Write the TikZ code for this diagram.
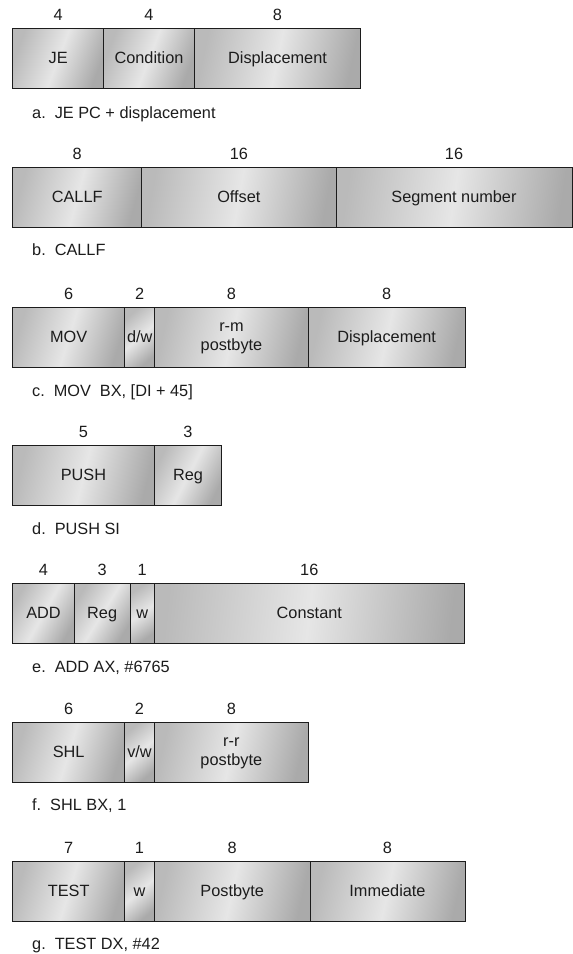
\documentclass[tikz,border=0pt]{standalone}
\usepackage{fontspec}
\setmainfont{Liberation Sans}
\definecolor{leftgray}{RGB}{186,186,186}
\definecolor{rightgray}{RGB}{170,170,170}
\definecolor{midgray}{RGB}{230,230,230}
\definecolor{inkc}{RGB}{28,28,28}
\tikzset{
  cell/.style={draw=inkc, line width=1pt, inner sep=0pt, outer sep=0pt,
    minimum height=60pt, align=center, text=inkc,
    left color=leftgray, right color=rightgray, middle color=midgray,
    text height=11.4pt, text depth=0pt,
    font=\fontsize{16.3}{18.5}\selectfont},
  twoline/.style={text height=0pt, text depth=0pt},
  bits/.style={anchor=base, inner sep=0pt, text=inkc, font=\fontsize{16.3}{18}\selectfont},
  capt/.style={anchor=base west, inner sep=0pt, text=inkc, font=\fontsize{16.3}{18}\selectfont}
}
\newcommand\twolines[2]{\raisebox{5.3pt}[0pt][0pt]{\begin{tabular}[t]{@{}c@{}}#1\\#2\end{tabular}}}
% #1 name, #2 x left, #3 x right, #4 y top, #5 label, #6 bit count, #7 extra style
\newcommand\fldgen[7]{%
  \pgfmathsetmacro\shang{90-atan(34.6/(#3-#2))}%
  \node[cell, #7, shading angle=\shang, minimum width={#3-#2}] (#1) at ({(#2+#3)/2},{#4+30}) {#5};
  \node[bits] (#1n) at ({(#2+#3)/2},{#4-8}) {#6};
}
\newcommand\fld[6]{\fldgen{#1}{#2}{#3}{#4}{#5}{#6}{}}
\newcommand\fldtwo[6]{\fldgen{#1}{#2}{#3}{#4}{#5}{#6}{twoline}}
\begin{document}
\begin{tikzpicture}[x=1pt,y=-1pt]
\useasboundingbox (0,0) rectangle (573,954);
% a
\fld{a1}{12.7}{103.7}{28}{JE}{4}
\fld{a2}{103.7}{194.3}{28}{Condition}{4}
\fld{a3}{194.3}{360.7}{28}{Displacement}{8}
\node[capt] (ca) at (32,118) {a.\hspace{0.55em}JE PC + displacement};
% b
\fld{b1}{12.7}{141.7}{167}{CALLF}{8}
\fld{b2}{141.7}{336}{167}{Offset}{16}
\fld{b3}{336}{572}{167}{Segment number}{16}
\node[capt] (cb) at (32,255) {b.\hspace{0.55em}CALLF};
% c
\fld{c1}{12.7}{124.7}{307}{MOV}{6}
\fld{c2}{124.7}{154.7}{307}{d/w}{2}
\fldtwo{c3}{154.7}{308.3}{307}{\twolines{r-m}{postbyte}}{8}
\fld{c4}{308.3}{465}{307}{Displacement}{8}
\node[capt] (cc) at (32,396) {c.\hspace{0.55em}MOV\hspace{0.55em}BX, [DI + 45]};
% d
\fld{d1}{12.7}{154.3}{445}{PUSH}{5}
\fld{d2}{154.3}{221.7}{445}{Reg}{3}
\node[capt] (cd) at (32,534) {d.\hspace{0.55em}PUSH SI};
% e
\fld{e1}{12.7}{74.3}{583}{ADD}{4}
\fld{e2}{74.3}{130}{583}{Reg}{3}
\fld{e3}{130}{154.3}{583}{w}{1}
\fld{e4}{154.3}{464.3}{583}{Constant}{16}
\node[capt] (ce) at (32,672) {e.\hspace{0.55em}ADD AX, \#6765};
% f
\fld{f1}{12.7}{124.7}{722}{SHL}{6}
\fld{f2}{124.7}{154.3}{722}{v/w}{2}
\fldtwo{f3}{154.3}{308.3}{722}{\twolines{r-r}{postbyte}}{8}
\node[capt] (cf) at (32,810) {f.\hspace{0.55em}SHL BX, 1};
% g
\fld{g1}{12.7}{124.7}{861}{TEST}{7}
\fld{g2}{124.7}{154.3}{861}{w}{1}
\fld{g3}{154.3}{310}{861}{Postbyte}{8}
\fld{g4}{310}{465}{861}{Immediate}{8}
\node[capt] (cg) at (32,949) {g.\hspace{0.55em}TEST DX, \#42};
\end{tikzpicture}
\end{document}
